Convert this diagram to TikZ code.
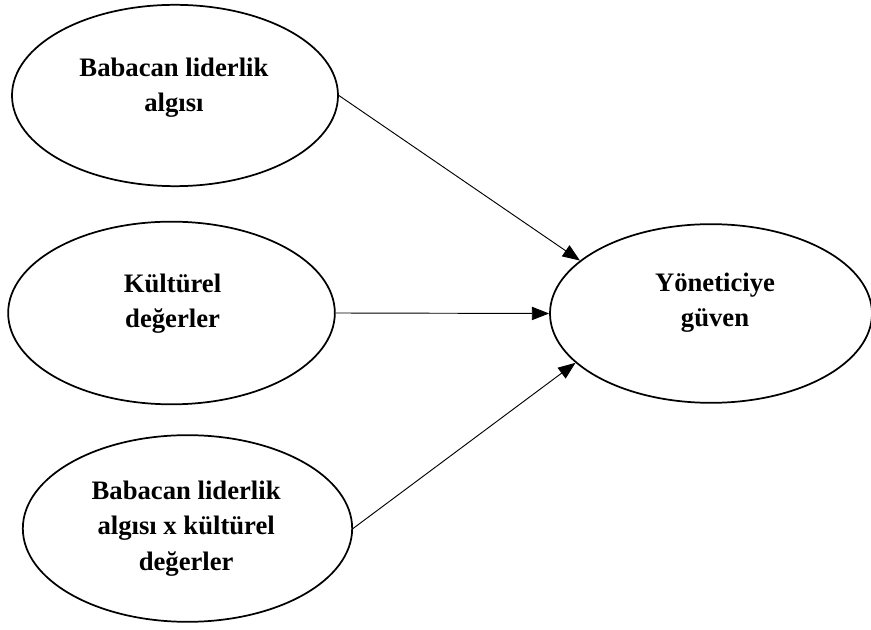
\documentclass[tikz,border=0pt]{standalone}
\usepackage{fontspec}
\setmainfont{Liberation Serif}
\usepackage{tikz}
\usetikzlibrary{shapes.geometric, arrows.meta}
\tikzstyle{latent} = [ellipse, draw=black, line width=1.3pt, inner sep=0pt]
\tikzstyle{txt} = [font=\fontsize{20}{26.5}\selectfont\bfseries, align=center, inner sep=0pt]
\tikzstyle{arrow} = [line width=0.7pt, -{Triangle[length=13pt, width=10pt]}]

\begin{document}
\begin{tikzpicture}[x=0.75pt, y=-0.75pt]
\useasboundingbox (0,0) rectangle (871,630);
\node (bla) [latent, minimum width=244.5pt, minimum height=136pt, label={[txt, yshift=6pt, xshift=-0.8pt]center:{Babacan liderlik\\algısı}}] at (175,95.5) {};
\node (kd) [latent, minimum width=245pt, minimum height=137pt, label={[txt, yshift=7pt, xshift=0.8pt]center:{Kültürel\\değerler}}] at (171.5,313) {};
\node (inter) [latent, minimum width=247pt, minimum height=140pt, label={[txt, xshift=-1pt]center:{Babacan liderlik\\algısı x kültürel\\değerler}}] at (187.5,528.5) {};
\node (yg) [latent, minimum width=241.5pt, minimum height=134pt, label={[txt, yshift=7.9pt, xshift=3pt]center:{Yöneticiye\\güven}}] at (711,313.5) {};

\draw [arrow] (bla.east) -- (yg.158);
\draw [arrow] (kd.east) -- (yg.west);
\draw [arrow] (inter.east) -- (yg.200);
\end{tikzpicture}
\end{document}
